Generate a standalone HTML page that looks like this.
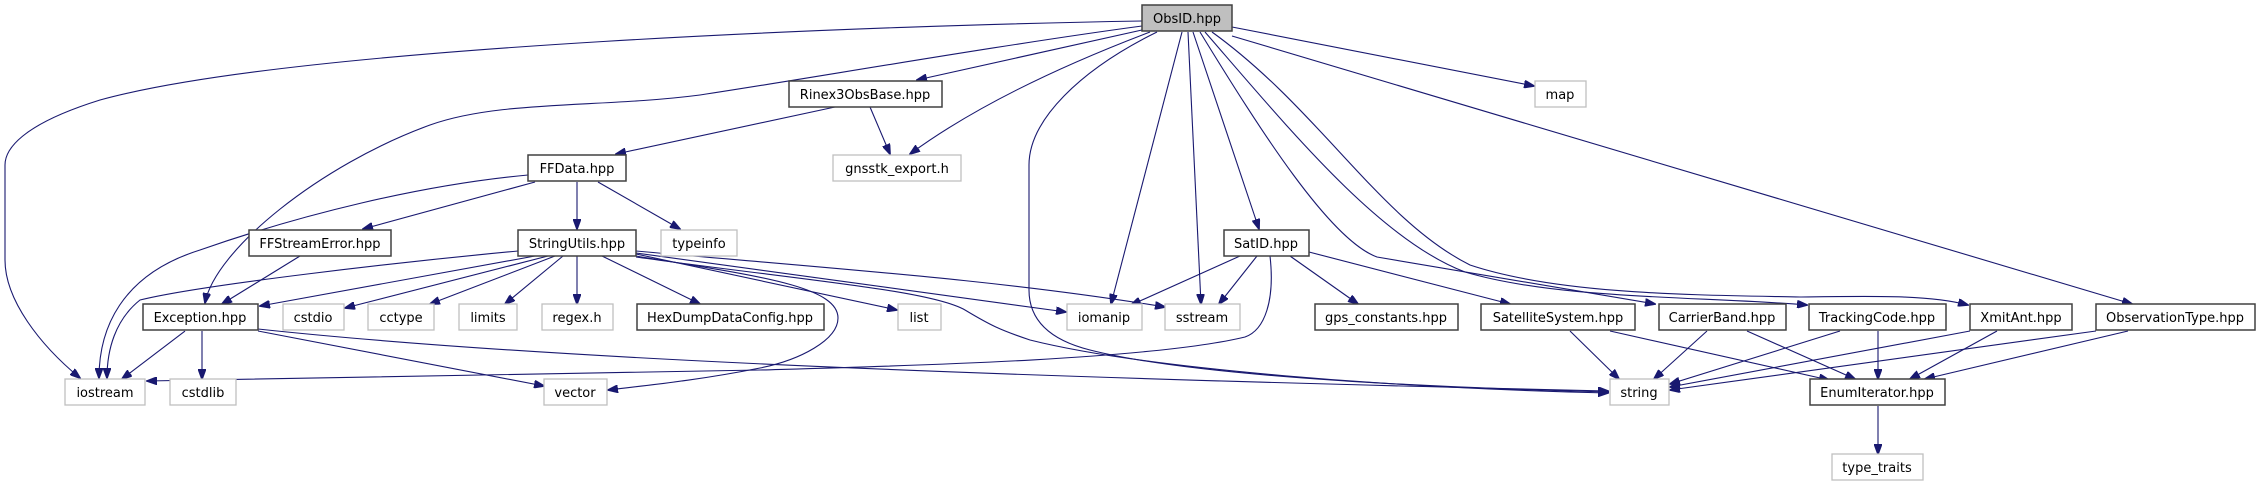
<!DOCTYPE html>
<html><head><meta charset="utf-8"><style>
html,body{margin:0;padding:0;background:#fff;}
svg{display:block;}
text{font-family:"DejaVu Sans","Liberation Sans",sans-serif;font-size:13px;text-anchor:middle;fill:#000;}
.d{fill:#fff;stroke:#404040;stroke-width:1.5;}
.x{fill:#fff;stroke:#bfbfbf;stroke-width:1.3;}
.e{fill:none;stroke:#191970;stroke-width:1.1;marker-end:url(#a);}
</style></head><body>
<svg width="2262" height="485" viewBox="0 0 2262 485" xmlns="http://www.w3.org/2000/svg">
<defs><marker id="a" markerWidth="11" markerHeight="8" refX="10" refY="4" orient="auto" markerUnits="userSpaceOnUse"><path d="M0,0 L11,4 L0,8 Z" fill="#191970" stroke="#191970"/></marker></defs>
<!-- edges -->
<path class="e" d="M1142,21 C900,25 300,45 100,100 C20,125 5,150 5,165 L5,260 C5,300 40,345 80,378"/>
<path class="e" d="M1142,26 C1000,45 800,80 700,95 C600,108 500,100 430,125 C320,165 215,250 205,303"/>
<path class="e" d="M1142,30 L917,80"/>
<path class="e" d="M1150,32 C1050,70 970,110 910,154"/>
<path class="e" d="M1157,32 C1080,70 1029,120 1029,165 L1029,290 C1029,320 1050,340 1090,350 C1200,378 1450,388 1608,392"/>
<path class="e" d="M1182,32 L1111,304"/>
<path class="e" d="M1188,32 L1201,304"/>
<path class="e" d="M1193,32 L1259,229"/>
<path class="e" d="M1200,32 C1260,130 1330,240 1377,257 L1655,304"/>
<path class="e" d="M1205,32 C1290,130 1380,240 1465,272 C1560,300 1700,296 1807,305"/>
<path class="e" d="M1212,32 C1320,110 1380,220 1470,265 C1560,295 1700,295 1800,297 C1880,296 1930,295 1968,305"/>
<path class="e" d="M1232,27 L1534,86"/>
<path class="e" d="M1232,36 L2132,304"/>
<path class="e" d="M835,107 L616,154"/>
<path class="e" d="M870,107 L890,154"/>
<path class="e" d="M528,175 C420,185 300,215 200,250 C120,275 99,330 99,378"/>
<path class="e" d="M535,182 L363,229"/>
<path class="e" d="M577,182 L577,229"/>
<path class="e" d="M598,182 L680,229"/>
<path class="e" d="M300,256 L222,304"/>
<path class="e" d="M518,251 C400,262 200,285 140,300 C115,320 107,350 107,378"/>
<path class="e" d="M535,256 L260,306"/>
<path class="e" d="M548,256 L345,308"/>
<path class="e" d="M555,256 L430,304"/>
<path class="e" d="M563,256 L505,304"/>
<path class="e" d="M577,256 L577,304"/>
<path class="e" d="M602,256 L700,304"/>
<path class="e" d="M636,254 L897,310"/>
<path class="e" d="M636,253 L1066,312"/>
<path class="e" d="M636,251 C850,270 1000,280 1165,307"/>
<path class="e" d="M636,256 C750,275 838,285 838,318 C838,340 800,360 760,368 C700,380 650,385 608,390"/>
<path class="e" d="M636,257 C800,280 930,290 965,310 C990,325 1000,330 1030,340 C1150,370 1400,388 1608,393"/>
<path class="e" d="M185,331 L122,379"/>
<path class="e" d="M202,331 L202,379"/>
<path class="e" d="M258,331 L544,386"/>
<path class="e" d="M258,329 C500,355 900,375 1608,391"/>
<path class="e" d="M1240,256 L1131,305"/>
<path class="e" d="M1257,256 L1219,304"/>
<path class="e" d="M1270,256 C1275,300 1265,330 1245,337 C1150,360 900,366 760,370 L147,381"/>
<path class="e" d="M1290,256 L1358,304"/>
<path class="e" d="M1309,252 L1510,304"/>
<path class="e" d="M1570,331 L1619,379"/>
<path class="e" d="M1610,331 L1829,380"/>
<path class="e" d="M1707,331 L1654,379"/>
<path class="e" d="M1747,331 L1855,379"/>
<path class="e" d="M1840,331 L1670,384"/>
<path class="e" d="M1878,331 L1878,379"/>
<path class="e" d="M1970,331 L1670,387"/>
<path class="e" d="M1997,331 L1910,379"/>
<path class="e" d="M2096,331 L1670,390"/>
<path class="e" d="M2128,331 L1925,379"/>
<path class="e" d="M1878,406 L1878,454"/>
<!-- nodes -->
<rect x="1142" y="5" width="90" height="26" fill="#bfbfbf" stroke="#404040" stroke-width="1.5"/><text x="1187" y="23">ObsID.hpp</text>
<rect class="d" x="789" y="81" width="153" height="26"/><text x="865" y="99">Rinex3ObsBase.hpp</text>
<rect class="x" x="1535" y="81" width="51" height="26"/><text x="1560" y="99">map</text>
<rect class="d" x="528" y="155" width="98" height="26"/><text x="577" y="173">FFData.hpp</text>
<rect class="x" x="833" y="155" width="128" height="26"/><text x="897" y="173">gnsstk_export.h</text>
<rect class="d" x="249" y="230" width="142" height="26"/><text x="320" y="248">FFStreamError.hpp</text>
<rect class="d" x="518" y="230" width="118" height="26"/><text x="577" y="248">StringUtils.hpp</text>
<rect class="x" x="661" y="230" width="76" height="26"/><text x="699" y="248">typeinfo</text>
<rect class="d" x="1224" y="230" width="85" height="26"/><text x="1266" y="248">SatID.hpp</text>
<rect class="d" x="143" y="304" width="115" height="26"/><text x="200" y="322">Exception.hpp</text>
<rect class="x" x="283" y="304" width="61" height="26"/><text x="313" y="322">cstdio</text>
<rect class="x" x="368" y="304" width="66" height="26"/><text x="401" y="322">cctype</text>
<rect class="x" x="459" y="304" width="58" height="26"/><text x="488" y="322">limits</text>
<rect class="x" x="542" y="304" width="71" height="26"/><text x="577" y="322">regex.h</text>
<rect class="d" x="637" y="304" width="187" height="26"/><text x="730" y="322">HexDumpDataConfig.hpp</text>
<rect class="x" x="898" y="304" width="43" height="26"/><text x="919" y="322">list</text>
<rect class="x" x="1067" y="304" width="75" height="26"/><text x="1104" y="322">iomanip</text>
<rect class="x" x="1165" y="304" width="75" height="26"/><text x="1202" y="322">sstream</text>
<rect class="d" x="1315" y="304" width="143" height="26"/><text x="1386" y="322">gps_constants.hpp</text>
<rect class="d" x="1481" y="304" width="154" height="26"/><text x="1558" y="322">SatelliteSystem.hpp</text>
<rect class="d" x="1659" y="304" width="127" height="26"/><text x="1722" y="322">CarrierBand.hpp</text>
<rect class="d" x="1809" y="304" width="137" height="26"/><text x="1877" y="322">TrackingCode.hpp</text>
<rect class="d" x="1970" y="304" width="102" height="26"/><text x="2021" y="322">XmitAnt.hpp</text>
<rect class="d" x="2096" y="304" width="159" height="26"/><text x="2175" y="322">ObservationType.hpp</text>
<rect class="x" x="65" y="379" width="80" height="26"/><text x="105" y="397">iostream</text>
<rect class="x" x="170" y="379" width="66" height="26"/><text x="203" y="397">cstdlib</text>
<rect class="x" x="544" y="379" width="63" height="26"/><text x="575" y="397">vector</text>
<rect class="x" x="1610" y="379" width="59" height="26"/><text x="1639" y="397">string</text>
<rect class="d" x="1810" y="379" width="135" height="26"/><text x="1877" y="397">EnumIterator.hpp</text>
<rect class="x" x="1832" y="454" width="91" height="26"/><text x="1877" y="472">type_traits</text>
</svg>
</body></html>
